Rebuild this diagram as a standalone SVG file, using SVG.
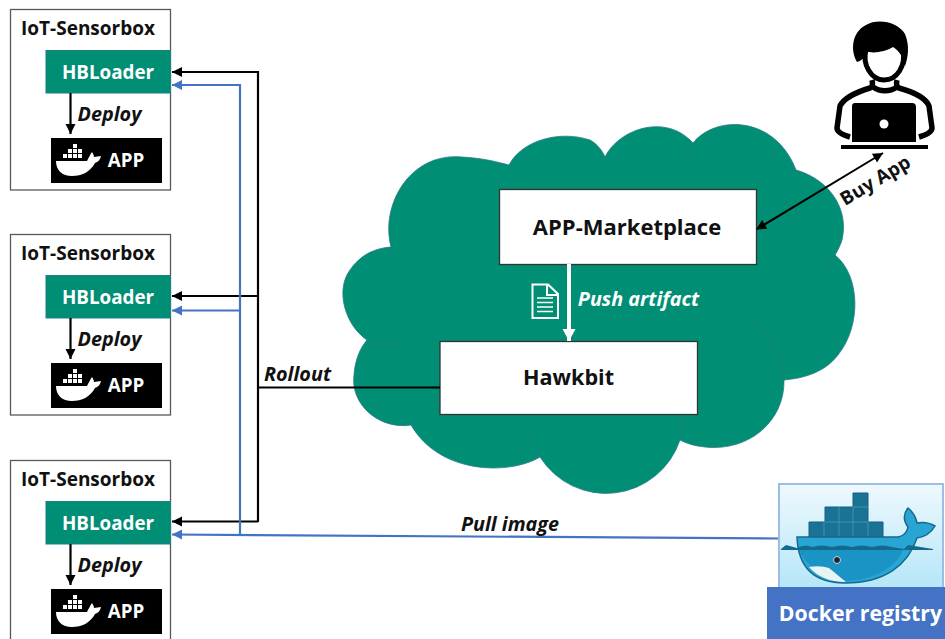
<svg xmlns="http://www.w3.org/2000/svg" xmlns:xlink="http://www.w3.org/1999/xlink" width="945" height="639" viewBox="0 0 945 639">
<style>
text{font-family:"Open Sans","Noto Sans","Liberation Sans",sans-serif;font-weight:700;text-anchor:middle}
.box{fill:#fff;stroke:#595959;stroke-width:1.3}
.ldr{fill:#008e74;stroke:#1f7f86;stroke-width:1}
.wl{fill:#fff;font-size:18.800px}
.t{fill:#111;font-size:19px}
.i{fill:#111;font-size:19.800px;font-style:italic}
.cl{fill:#008e74;stroke:#2b7a8c;stroke-width:.8}
.k{fill:none;stroke:#000;stroke-width:2.2}
.b{fill:none;stroke:#4472c4;stroke-width:2.2}
</style>
<defs>
<linearGradient id="sky" x1="0" y1="0" x2="0" y2="1"><stop offset="0" stop-color="#eef9fd"/><stop offset="1" stop-color="#b5e6f8"/></linearGradient>
<marker id="ak" markerUnits="userSpaceOnUse" markerWidth="12" markerHeight="12" refX="10" refY="5" orient="auto"><path d="M0 0L10 5L0 10z" fill="#000"/></marker>
<marker id="ab" markerUnits="userSpaceOnUse" markerWidth="12" markerHeight="12" refX="10" refY="5" orient="auto"><path d="M0 0L10 5L0 10z" fill="#4472c4"/></marker>
<marker id="as" markerUnits="userSpaceOnUse" markerWidth="12" markerHeight="12" refX="1" refY="5" orient="auto"><path d="M10 0L0 5L10 10z" fill="#000"/></marker>
<marker id="aw" markerUnits="userSpaceOnUse" markerWidth="14" markerHeight="14" refX="12" refY="6.500" orient="auto"><path d="M0 0L12 6.500L0 13z" fill="#fff"/></marker>
<g id="sbox">
<rect class="box" x="10.500" y="9.500" width="160" height="180.500"/>
<text class="t" x="88" y="35">IoT-Sensorbox</text>
<rect class="ldr" x="46" y="50.500" width="124.500" height="42.500"/>
<text class="wl" x="108" y="79">HBLoader</text>
<rect x="51" y="138" width="111" height="45" fill="#000"/>
<path fill="#fff" d="M56 161H87C89 157 90 155 92 152C93 154 94 155 94 157L101 156C100 160 98 162 95 163C90 172 82 176 72 176C62 176 56 170 56 161z"/>
<path fill="#fff" d="M63 154h4v4h-4zM68 154h4v4h-4zM73 154h4v4h-4zM78 154h4v4h-4zM68 149h4v4h-4zM73 149h4v4h-4zM78 149h4v4h-4zM73 144h4v4h-4z"/>
<text class="wl" x="126" y="167">APP</text>
<path class="k" d="M70.500 93V134" marker-end="url(#ak)"/>
<text class="i" x="109.500" y="121">Deploy</text>
</g>
</defs>
<g id="cloud">
<path class="cl" d="M391 247C380 205 410 152 462 157C482 158 498 162 509 165C522 140 560 130 590 140C597 144 602 150 605 157C618 130 665 112 693 143C715 115 775 115 796 170C825 178 850 205 842 240C840 246 838 250 835 255C860 275 862 325 838 355C825 372 805 378 784 380C785 420 750 452 705 447C695 446 688 444 680 440A78 78 0 0 1 540 457C510 475 440 475 411 425C380 430 350 405 354 375C355 360 360 348 367 340C345 325 335 290 350 270C360 255 375 248 391 247z"/>
<path fill="none" stroke="#2b7a8c" stroke-width=".8" d="M391 247Q391 253 393 258M509 165Q516 170 523 178M605 157Q604 161 604 165M693 143Q688 149 685 157M796 170Q797 175 797 181M835 255Q828 268 819 277M745 318C765 330 782 355 784 380M680 440Q683 428 683 415M540 457Q533 450 530 438M411 425Q418 423 425 420M367 340Q382 346 398 345"/>
</g>
<use id="sensorbox-1" xlink:href="#sbox" href="#sbox"/>
<use id="sensorbox-2" xlink:href="#sbox" href="#sbox" y="225"/>
<use id="sensorbox-3" xlink:href="#sbox" href="#sbox" y="451"/>
<g id="marketplace"><rect x="499.500" y="189.500" width="257" height="75" fill="#fff" stroke="#333" stroke-width="1.300"/><text x="627" y="235" font-size="22" fill="#111">APP-Marketplace</text></g>
<g id="hawkbit"><rect x="440" y="341.500" width="257.500" height="73" fill="#fff" stroke="#333" stroke-width="1.300"/><text x="568.500" y="385" font-size="21.600" fill="#111">Hawkbit</text></g>
<g id="artifact-icon" fill="none" stroke="#fff" stroke-width="2"><path d="M532.500 284.500H548L558 294V318H532.500z"/><path d="M547 285V295H558"/><path d="M537 298H553M537 302.500H553M537 307H553M537 311.500H553" stroke-width="1.600"/></g>
<g id="user">
<path fill="#000" d="M857 62C850 50 852 32 866 25C878 18 898 22 905 34C910 46 908 58 905 66C903 56 899 51 893 47C885 52 872 54 866 51C866 56 863 60 857 62z"/>
<path fill="none" stroke="#000" stroke-width="5" d="M866 50C862 64 871 80 884 80C897 80 906 66 903 50"/>
<path fill="none" stroke="#000" stroke-width="5.500" d="M872 80C873 84 872 87 870 88C860 91 845 96 840 106L837 128C837 132 843 135 850 137M897 80C896 84 897 87 899 88C910 91 925 96 929 106L932 128C932 132 926 135 919 137M873 87C880 92 890 92 897 87"/>
<path fill="#000" d="M855 103H912Q916 103 916 107V142H852V106Q852 103 855 103z"/>
<circle cx="884" cy="124" r="4.500" fill="#fff"/>
<rect x="841" y="145" width="87" height="4" fill="#000"/>
</g>
<g id="docker">
<rect x="779" y="484" width="164" height="105" fill="url(#sky)" stroke="#9dbde6" stroke-width="2"/>
<path fill="#1a7395" stroke="#145f7e" d="M809 537V522H825V507H853V493H868V522H883V537z"/>
<path fill="none" stroke="#3f93ae" stroke-width="1" d="M824 522V537M839 507V537M853 507V537M868 522V537M825 522H868M853 507H868"/>
<path fill="#28a5d3" stroke="#136a8f" stroke-width="1.500" d="M797 537H898C903 536 907 533 908 527C903 520 903 514 908 508C913 512 916 518 917 523C923 522 930 523 935 526C931 533 925 537 917 538C908 565 885 583 845 583C812 583 798 565 797 537z"/>
<path fill="#136a8f" d="M781 549L786 545L797 548Q805 544 812 547Q822 544 832 547Q842 544 852 547Q862 544 872 547Q882 544 892 547L904 549L908 545L933 549V550H781z"/>
<path fill="#0f86b8" d="M799 550H903C897 566 875 580 846 581C822 575 805 565 799 550z" opacity=".55"/>
<path fill="#e8f4f4" d="M809 567Q820 565 829 568L846 582Q822 582 809 567z"/>
<circle cx="837" cy="560" r="3.500" fill="#223" stroke="#bde" stroke-width="1"/>
</g>
<g id="registry"><rect x="767" y="587" width="178" height="52" fill="#4472c4"/><text x="860.500" y="621" font-size="21.300" fill="#fff">Docker registry</text></g>
<g id="connectors">
<path class="k" d="M258 72H172" marker-end="url(#ak)"/>
<path class="k" d="M258 296H172" marker-end="url(#ak)"/>
<path class="k" d="M258 521.500H172" marker-end="url(#ak)"/>
<path class="k" d="M258 71V522"/>
<path class="k" d="M440 387.500H258"/>
<path class="b" d="M240 85H172" marker-end="url(#ab)"/>
<path class="b" d="M240 310.500H172" marker-end="url(#ab)"/>
<path class="b" d="M240 84V535"/>
<path class="b" d="M778 538.500L172 534.500" marker-end="url(#ab)"/>
<path fill="none" stroke="#fff" stroke-width="4" d="M569 264V341" marker-end="url(#aw)"/>
<path fill="none" stroke="#000" stroke-width="2" d="M757 229L883 153" marker-start="url(#as)" marker-end="url(#ak)"/>
</g>
<g id="labels">
<text class="i" x="297.500" y="381">Rollout</text>
<text class="i" x="510" y="531">Pull image</text>
<text class="i" x="638.500" y="306" style="fill:#fff">Push artifact</text>
<text x="875" y="187" font-size="19" fill="#111" transform="rotate(-31 875 180)">Buy App</text>
</g>
</svg>
